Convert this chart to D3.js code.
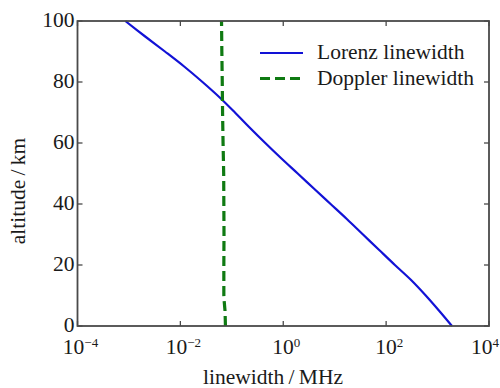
<!DOCTYPE html>
<html>
<head>
<meta charset="utf-8">
<script src="https://cdn.jsdelivr.net/npm/d3@7"></script>
<style>
  html, body { margin: 0; padding: 0; background: #fff; }
  svg text { font-family: "Liberation Serif", "DejaVu Serif", serif; fill: #1a1a1a; }
</style>
</head>
<body>
<div id="chart"></div>
<script>
// altitude (km) and linewidths (MHz)
const altitudes = [0, 5, 10, 15, 20, 25, 30, 35, 40, 45, 50, 55, 60, 65, 70, 75, 80, 85, 90, 95, 100];
const lorenzWidth = [1905, 1072, 589, 309, 148, 72.4, 35.5, 17.4, 8.32, 3.98, 1.91, 0.912, 0.447, 0.224, 0.115, 0.0575, 0.0269, 0.0120, 0.00501, 0.00204, 0.000851];
const dopplerAlt = [0, 5, 8, 10, 20, 30, 40, 50, 60, 70, 80, 90, 100];
const dopplerWidth = [0.0752, 0.0738, 0.0712, 0.0700, 0.0700, 0.0705, 0.0700, 0.0695, 0.0676, 0.0661, 0.0652, 0.0640, 0.0631];
const xTickExps = [-4, -2, 0, 2, 4];
const yTicks = [0, 20, 40, 60, 80, 100];
const legendItems = [
    { name: 'Lorenz linewidth', color: '#1212d6', dash: null, width: 2.2 },
    { name: 'Doppler linewidth', color: '#0f7a12', dash: '10,5', width: 3.2 }
];

const width = 500;
const height = 388;
const margin = { top: 21, right: 11, bottom: 62, left: 77.5 };

const svg = d3.select('#chart').append('svg')
    .attr('width', width)
    .attr('height', height);

const xScale = d3.scaleLog().domain([1e-4, 1e4]).range([margin.left, width - margin.right]);
const yScale = d3.scaleLinear().domain([0, 100]).range([height - margin.bottom, margin.top]);

const axisColor = '#4a4a4a';
const x0 = margin.left, x1 = width - margin.right;
const y0 = height - margin.bottom, y1 = margin.top;

// ticks on all four sides, pointing inward
const tickLen = 5;
const xTickVals = xTickExps.map(e => Math.pow(10, e));
svg.append('g').selectAll('line.xb')
    .data(xTickVals).enter().append('line')
    .attr('x1', d => xScale(d)).attr('x2', d => xScale(d))
    .attr('y1', y0).attr('y2', y0 - tickLen)
    .attr('stroke', axisColor).attr('stroke-width', 1.3);
svg.append('g').selectAll('line.xt')
    .data(xTickVals).enter().append('line')
    .attr('x1', d => xScale(d)).attr('x2', d => xScale(d))
    .attr('y1', y1).attr('y2', y1 + tickLen)
    .attr('stroke', axisColor).attr('stroke-width', 1.3);
svg.append('g').selectAll('line.yl')
    .data(yTicks).enter().append('line')
    .attr('x1', x0).attr('x2', x0 + tickLen)
    .attr('y1', d => yScale(d)).attr('y2', d => yScale(d))
    .attr('stroke', axisColor).attr('stroke-width', 1.3);
svg.append('g').selectAll('line.yr')
    .data(yTicks).enter().append('line')
    .attr('x1', x1).attr('x2', x1 - tickLen)
    .attr('y1', d => yScale(d)).attr('y2', d => yScale(d))
    .attr('stroke', axisColor).attr('stroke-width', 1.3);

// lines
const lorenzLine = d3.line()
    .x((d, i) => xScale(lorenzWidth[i]))
    .y(d => yScale(d))
    .curve(d3.curveCatmullRom);
svg.append('path')
    .datum(altitudes)
    .attr('d', lorenzLine)
    .attr('fill', 'none')
    .attr('stroke', legendItems[0].color)
    .attr('stroke-width', legendItems[0].width);

const dopplerLine = d3.line()
    .x((d, i) => xScale(dopplerWidth[i]))
    .y(d => yScale(d));
svg.append('path')
    .datum(dopplerAlt)
    .attr('d', dopplerLine)
    .attr('fill', 'none')
    .attr('stroke', legendItems[1].color)
    .attr('stroke-width', legendItems[1].width)
    .attr('stroke-dasharray', legendItems[1].dash);

// frame
svg.append('rect')
    .attr('x', x0).attr('y', y1)
    .attr('width', x1 - x0).attr('height', y0 - y1)
    .attr('fill', 'none')
    .attr('stroke', axisColor)
    .attr('stroke-width', 1.8);

// tick labels
svg.append('g').selectAll('text')
    .data(yTicks).enter().append('text')
    .attr('x', x0 - 3)
    .attr('y', d => yScale(d) + 6)
    .attr('text-anchor', 'end')
    .style('font-size', '21.5px')
    .text(d => d);

const xLabels = svg.append('g').selectAll('text')
    .data(xTickExps).enter().append('text')
    .attr('x', (d, i) => i === xTickExps.length - 1 ? width - 1 : xScale(Math.pow(10, d)) + 3)
    .attr('y', y0 + 28)
    .attr('text-anchor', (d, i) => i === xTickExps.length - 1 ? 'end' : 'middle')
    .style('font-size', '21.5px');
xLabels.append('tspan').text('10');
xLabels.append('tspan')
    .attr('dy', -7)
    .style('font-size', '13px')
    .text(d => d < 0 ? '\u2212' + Math.abs(d) : d);

// axis titles
svg.append('text')
    .attr('x', 273)
    .attr('y', 384)
    .attr('text-anchor', 'middle')
    .style('font-size', '21.5px')
    .text('linewidth\u2009/\u2009MHz');

svg.append('text')
    .attr('transform', `translate(25, 191) rotate(-90)`)
    .attr('text-anchor', 'middle')
    .style('font-size', '21.5px')
    .text('altitude\u2009/\u2009km');

// legend
const legend = svg.append('g').attr('transform', 'translate(260, 53)');
const rows = legend.selectAll('g')
    .data(legendItems).enter().append('g')
    .attr('transform', (d, i) => `translate(0, ${i * 25.5})`);
rows.append('line')
    .attr('x1', 0).attr('x2', 43)
    .attr('y1', 0).attr('y2', 0)
    .attr('stroke', d => d.color)
    .attr('stroke-width', d => d.width - 0.4)
    .attr('stroke-dasharray', d => d.dash);
rows.append('text')
    .attr('x', 57)
    .attr('y', 6)
    .style('font-size', '21.5px')
    .text(d => d.name);
</script>
</body>
</html>
